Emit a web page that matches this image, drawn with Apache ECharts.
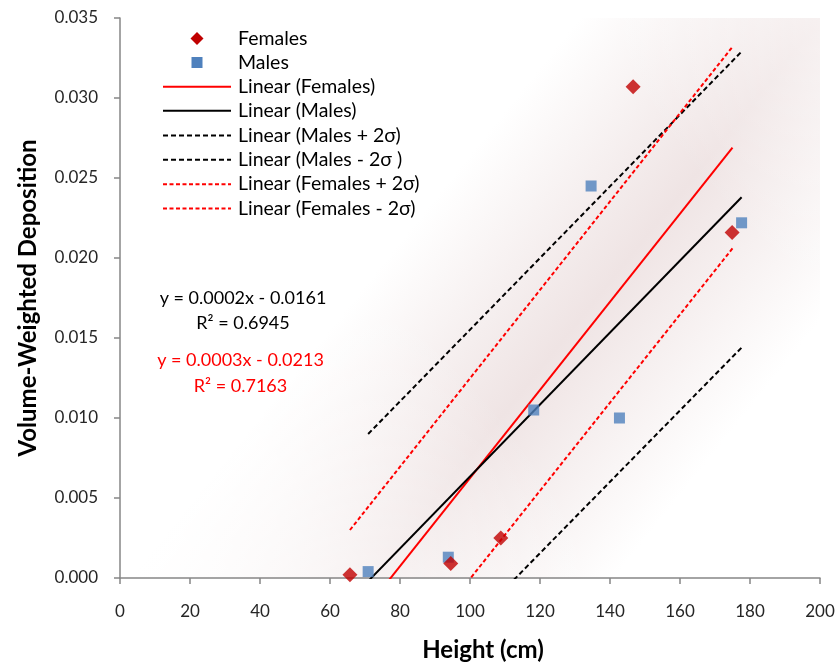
<!DOCTYPE html>
<html>
<head>
<meta charset="utf-8">
<script src="https://cdn.jsdelivr.net/npm/echarts@6/dist/echarts.min.js"></script>
<style>
  html, body { margin: 0; padding: 0; background: #ffffff; }
  #chart { width: 839px; height: 667px; }
</style>
</head>
<body>
<div id="chart"></div>
<script>
// Measured points: [height (cm), volume-weighted deposition]
const femalePoints = [[65.7, 0.0002], [94.5, 0.0009], [108.8, 0.0025], [146.6, 0.0307], [174.9, 0.0216]];
const malePoints = [[70.9, 0.0004], [93.8, 0.0013], [118.2, 0.0105], [134.6, 0.0245], [142.7, 0.0100], [177.6, 0.0222]];

// Trend lines, each given by its two end points over the data range
const femaleFit = [[65.7, -0.0032], [175.0, 0.0269]];
const maleFit = [[70.9, -0.0002], [177.6, 0.0238]];
const malePlus2s = [[70.9, 0.0090], [177.6, 0.0329]];
const maleMinus2s = [[70.9, -0.0094], [177.6, 0.0144]];
const femalePlus2s = [[65.7, 0.0030], [175.0, 0.0332]];
const femaleMinus2s = [[65.7, -0.0095], [175.0, 0.0206]];

// Trend line equations
const maleEquation = ['y = 0.0002x - 0.0161', 'R² = 0.6945'];
const femaleEquation = ['y = 0.0003x - 0.0213', 'R² = 0.7163'];

// Legend entries, top to bottom
const legendNames = [
  'Females', 'Males', 'Linear (Females)', 'Linear (Males)',
  'Linear (Males + 2σ)', 'Linear (Males - 2σ )', 'Linear (Females + 2σ)', 'Linear (Females - 2σ)'
];

const FONT = 'Lato';
const RED = '#ff0000', BLACK = '#000000', DIAMOND = '#c00000', SQUARE = '#4f81bd';
const DASH_BLACK = [5, 3], DASH_RED = [4, 2.5];

const chart = echarts.init(document.getElementById('chart'), null, { renderer: 'canvas' });

const GRID = { left: 120, top: 18, right: 19, bottom: 88 };
const plotW = 839 - GRID.left - GRID.right;
const plotH = 667 - GRID.top - GRID.bottom;

// Key styles for the legend, in the same order as legendNames
const legendKeys = [
  { kind: 'diamond', color: DIAMOND },
  { kind: 'square', color: SQUARE },
  { kind: 'line', color: RED, dash: 'solid' },
  { kind: 'line', color: BLACK, dash: 'solid' },
  { kind: 'line', color: BLACK, dash: DASH_BLACK },
  { kind: 'line', color: BLACK, dash: DASH_BLACK },
  { kind: 'line', color: RED, dash: DASH_RED },
  { kind: 'line', color: RED, dash: DASH_RED }
];

function buildLegend() {
  const rowY = [38.5, 62.5, 86.7, 110.7, 135.5, 159.8, 184.2, 208.4];
  const keyX0 = 163, keyX1 = 231, keyMid = 197, textX = 238;
  const els = [];
  legendNames.forEach((name, i) => {
    const k = legendKeys[i];
    const y = rowY[i];
    if (k.kind === 'diamond') {
      els.push({ type: 'polygon', z: 20, shape: { points: [[keyMid, y - 6.5], [keyMid + 6.5, y], [keyMid, y + 6.5], [keyMid - 6.5, y]] }, style: { fill: k.color } });
    } else if (k.kind === 'square') {
      els.push({ type: 'rect', z: 20, shape: { x: keyMid - 5.5, y: y - 5.5, width: 11, height: 11 }, style: { fill: k.color } });
    } else {
      els.push({ type: 'line', z: 20, shape: { x1: keyX0, y1: y, x2: keyX1, y2: y }, style: { stroke: k.color, lineWidth: 2, lineDash: k.dash === 'solid' ? null : k.dash } });
    }
    els.push({ type: 'text', z: 20, style: { text: name, x: textX, y: y, textAlign: 'left', textVerticalAlign: 'middle', fill: BLACK, font: '19.5px ' + FONT } });
  });
  return els;
}

function trend(name, data, color, type) {
  return {
    name: name,
    type: 'line',
    data: data,
    symbol: 'none',
    showSymbol: false,
    clip: true,
    silent: true,
    z: 2,
    lineStyle: { color: color, width: 2, type: type }
  };
}

function eqText(text, x, y, color) {
  return { type: 'text', z: 20, style: { text: text, x: x, y: y, textAlign: 'center', textVerticalAlign: 'middle', fill: color, font: '18px ' + FONT } };
}

chart.setOption({
  animation: false,
  backgroundColor: '#ffffff',
  textStyle: { fontFamily: FONT },
  grid: GRID,
  graphic: [
    // soft tinted band behind the trend lines
    {
      type: 'rect', z: -10, silent: true,
      shape: { x: GRID.left, y: GRID.top, width: plotW, height: plotH },
      style: {
        fill: {
          type: 'linear', x: 0, y: 0, x2: 1, y2: 1,
          colorStops: [
            { offset: 0, color: '#ffffff' },
            { offset: 0.40, color: '#ffffff' },
            { offset: 0.61, color: '#efe4e4' },
            { offset: 0.82, color: '#ffffff' },
            { offset: 1, color: '#ffffff' }
          ]
        }
      }
    },
    // fade the band towards both ends
    {
      type: 'rect', z: -9, silent: true,
      shape: { x: GRID.left, y: GRID.top, width: plotW, height: plotH },
      style: {
        fill: {
          type: 'linear', x: 0, y: 1, x2: 1, y2: 0,
          colorStops: [
            { offset: 0, color: 'rgba(255,255,255,0.9)' },
            { offset: 0.2, color: 'rgba(255,255,255,0.55)' },
            { offset: 0.45, color: 'rgba(255,255,255,0)' },
            { offset: 0.78, color: 'rgba(255,255,255,0)' },
            { offset: 1, color: 'rgba(255,255,255,0.45)' }
          ]
        }
      }
    },
    eqText(maleEquation[0], 243, 298, BLACK),
    eqText(maleEquation[1], 243, 323, BLACK),
    eqText(femaleEquation[0], 240.5, 360, RED),
    eqText(femaleEquation[1], 240.5, 386, RED)
  ].concat(buildLegend()),
  xAxis: {
    type: 'value',
    min: 0, max: 200, interval: 20,
    name: 'Height (cm)',
    nameLocation: 'middle',
    nameGap: 60,
    nameTextStyle: { fontFamily: FONT, fontSize: 24, fontWeight: 'bold', color: BLACK, padding: [0, 0, 0, 26] },
    axisLine: { show: true, onZero: false, lineStyle: { color: '#868686', width: 1.5 } },
    axisTick: { show: true, inside: false, length: 6, lineStyle: { color: '#868686', width: 1.5 } },
    axisLabel: { margin: 25, fontFamily: FONT, fontSize: 17, color: '#262626' },
    splitLine: { show: false }
  },
  yAxis: {
    type: 'value',
    min: 0, max: 0.035, interval: 0.005,
    name: 'Volume-Weighted Deposition',
    nameLocation: 'middle',
    nameGap: 80,
    nameTextStyle: { fontFamily: FONT, fontSize: 24, fontWeight: 'bold', color: BLACK },
    axisLine: { show: true, onZero: false, lineStyle: { color: '#868686', width: 1.5 } },
    axisTick: { show: true, inside: false, length: 6, lineStyle: { color: '#868686', width: 1.5 } },
    axisLabel: { margin: 22, fontFamily: FONT, fontSize: 17, color: '#262626', formatter: v => v.toFixed(3) },
    splitLine: { show: false }
  },
  series: [
    trend('Linear (Females)', femaleFit, RED, 'solid'),
    trend('Linear (Males)', maleFit, BLACK, 'solid'),
    trend('Linear (Males + 2σ)', malePlus2s, BLACK, DASH_BLACK),
    trend('Linear (Males - 2σ )', maleMinus2s, BLACK, DASH_BLACK),
    trend('Linear (Females + 2σ)', femalePlus2s, RED, DASH_RED),
    trend('Linear (Females - 2σ)', femaleMinus2s, RED, DASH_RED),
    {
      name: 'Males',
      type: 'scatter',
      data: malePoints,
      symbol: 'rect',
      symbolSize: 11,
      z: 4,
      itemStyle: { color: SQUARE }
    },
    {
      name: 'Females',
      type: 'scatter',
      data: femalePoints,
      symbol: 'diamond',
      symbolSize: [15, 15],
      z: 5,
      itemStyle: { color: DIAMOND }
    }
  ]
});
</script>
</body>
</html>
